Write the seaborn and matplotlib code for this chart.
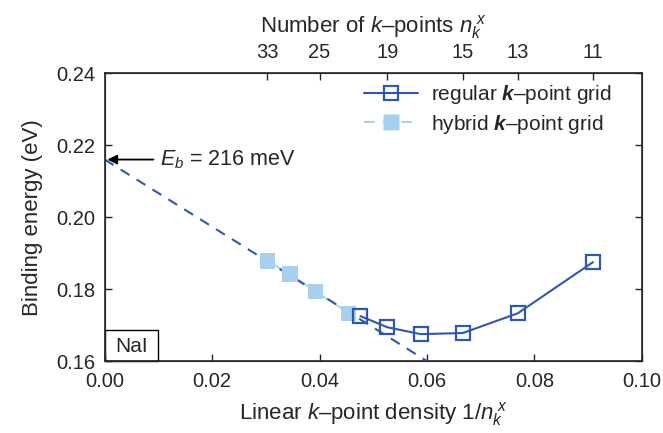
import numpy as np
import pandas as pd
import matplotlib
matplotlib.use('Agg')
import matplotlib.pyplot as plt
import seaborn as sns

# regular k-point grid
n_regular = [21, 19, 17, 15, 13, 11]
e_regular = [0.1725, 0.1694, 0.1675, 0.1678, 0.1733, 0.1875]

# hybrid k-point grid
n_hybrid = [33, 29, 25.5, 22]
e_hybrid = [0.1878, 0.1842, 0.1794, 0.1733]

# extrapolation
extrap_x = [0.0, 0.06]
extrap_y = [0.216, 0.160]

top_ticks = [33, 25, 19, 15, 13, 11]

dark = '#3157a9'
light = '#a6d0ee'

sns.set_style('ticks')
plt.rcParams['font.family'] = ['Liberation Sans', 'DejaVu Sans']
plt.rcParams['mathtext.fontset'] = 'custom'
plt.rcParams['mathtext.it'] = 'Liberation Sans:italic'
plt.rcParams['mathtext.rm'] = 'Liberation Sans'
plt.rcParams['mathtext.bf'] = 'Liberation Sans:bold:italic'

df_reg = pd.DataFrame({'x': 1 / np.array(n_regular), 'y': e_regular})
df_hyb = pd.DataFrame({'x': 1 / np.array(n_hybrid), 'y': e_hybrid})

fig = plt.figure(figsize=(6.63, 4.33), dpi=100)
ax = fig.add_axes([0.158, 0.166, 0.810, 0.665])

sns.lineplot(x='x', y='y', data=df_hyb, ax=ax, color=light, lw=1.2, zorder=2)
ax.plot(extrap_x, extrap_y, color=dark, lw=1.5, ls=(0, (5, 4)), zorder=3)
ax.scatter(df_hyb['x'], df_hyb['y'], marker='s', s=120, color=light, edgecolor='none', zorder=4)
sns.lineplot(x='x', y='y', data=df_reg, ax=ax, color=dark, lw=1.5, marker='s', markersize=10.5,
             markerfacecolor='none', markeredgecolor=dark, markeredgewidth=1.6, zorder=5)

# legend handles
h1, = ax.plot([], [], color=dark, lw=1.5, marker='s', markersize=10.5, markerfacecolor='none',
              markeredgewidth=1.6)
h2, = ax.plot([], [], color=light, lw=1.5, ls=(0, (5, 4)), marker='s', markersize=11,
              markeredgecolor='none')
ax.legend([h1, h2], [r'regular $\mathbf{k}$–point grid', r'hybrid $\mathbf{k}$–point grid'],
          loc='upper right', frameon=False, fontsize=15, handlelength=2.6,
          bbox_to_anchor=(0.978, 1.03), labelspacing=0.3, handletextpad=0.6)

ax.set_xlim(0, 0.10)
ax.set_ylim(0.16, 0.24)
ax.set_xticks([0.0, 0.02, 0.04, 0.06, 0.08, 0.10])
ax.set_xticklabels(['0.00', '0.02', '0.04', '0.06', '0.08', '0.10'])
ax.set_yticks([0.16, 0.18, 0.20, 0.22, 0.24])
ax.set_yticklabels(['0.16', '0.18', '0.20', '0.22', '0.24'])
ax.tick_params(direction='in', labelsize=14.5, length=5, right=True, width=1)
ax.tick_params(axis='x', pad=8)
ax.tick_params(axis='y', pad=7)
ax.set_xlabel(r'Linear $k$–point density 1/$n_k^{\ x}$', fontsize=16, labelpad=6)
ax.set_ylabel('Binding energy (eV)', fontsize=16, labelpad=9)
for s in ax.spines.values():
    s.set_linewidth(1.2)

top = ax.twiny()
top.set_xlim(ax.get_xlim())
top.set_xticks(1 / np.array(top_ticks))
top.set_xticklabels([str(t) for t in top_ticks])
top.tick_params(direction='in', labelsize=14.5, length=5, width=1, pad=8)
top.set_xlabel(r'Number of $k$–points $n_k^{\ x}$', fontsize=16, labelpad=8)

ax.annotate(r'$E_b$ = 216 meV', xy=(0.0005, 0.216), xytext=(0.0102, 0.216),
            fontsize=15.5, va='center',
            arrowprops=dict(arrowstyle='-|>', color='black', lw=1.3, mutation_scale=14,
                            shrinkA=2, shrinkB=0))

ax.add_patch(plt.Rectangle((0, 0.16), 0.0100, 0.0086, fill=False, edgecolor='black', lw=1,
                           zorder=6, clip_on=False))
ax.text(0.0050, 0.1641, 'NaI', fontsize=15, ha='center', va='center')

fig.savefig('out.png', dpi=100)
